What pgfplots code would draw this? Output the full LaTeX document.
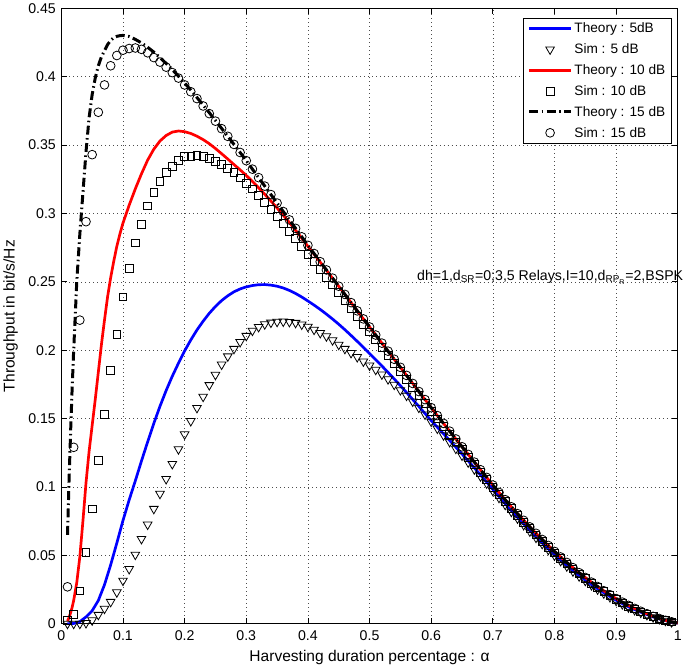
\documentclass[border=0pt]{standalone}
\usepackage{fontspec}
\setmainfont{Liberation Sans}
\usepackage{pgfplots}
\pgfplotsset{compat=1.18}
\usepackage{pgfplotstable}

\newcommand\tf{\fontsize{14.2}{17}\selectfont}
\newcommand\lf{\fontsize{15.6}{18}\selectfont}
\newcommand\gf{\fontsize{13.7}{16}\selectfont}

% x, theory/sim at 5, 10, 15 dB
\pgfplotstableread{
x      T5     S5     T10    S10    T15    S15
0.0100 0.0000 0.0000 0.0020 0.0024 0.0650 0.0270
0.0125 nan    nan    0.0045 nan    0.1050 nan
0.0150 nan    nan    0.0080 nan    0.1400 nan
0.0175 nan    nan    0.0120 nan    0.1720 nan
0.0200 0.0002 0.0000 0.0170 0.0066 0.2000 0.1290
0.0250 nan    nan    0.0300 nan    0.2500 nan
0.0300 0.0015 0.0000 0.0490 0.0240 0.2850 0.2220
0.0350 nan    nan    0.0750 nan    0.3150 nan
0.0400 0.0050 0.0005 0.1030 0.0520 0.3450 0.2940
0.0450 nan    nan    0.1260 nan    0.3700 nan
0.0500 0.0095 0.0025 0.1450 0.0840 0.3870 0.3430
0.0550 nan    nan    0.1640 nan    0.3990 nan
0.0600 0.0170 0.0065 0.1840 0.1196 0.4080 0.3740
0.0650 nan    nan    0.2040 nan    0.4145 nan
0.0700 0.0285 0.0110 0.2220 0.1530 0.4190 0.3940
0.0750 nan    nan    0.2390 nan    0.4235 nan
0.0800 0.0430 0.0160 0.2530 0.1850 0.4265 0.4080
0.0850 nan    nan    0.2650 nan    0.4285 nan
0.0900 0.0590 0.0230 0.2760 0.2116 0.4295 0.4155
0.0950 nan    nan    0.2850 nan    0.4300 nan
0.10 0.0755 0.0315 0.2930 0.2390 0.4302 0.4194
0.11 0.0905 0.0400 0.3060 0.2597 0.4294 0.4206
0.12 0.1045 0.0505 0.3180 0.2784 0.4273 0.4210
0.13 0.1190 0.0620 0.3290 0.2920 0.4247 0.4200
0.14 0.1330 0.0725 0.3390 0.3055 0.4215 0.4175
0.15 0.1465 0.0840 0.3470 0.3155 0.4180 0.4140
0.16 0.1590 0.0950 0.3530 0.3233 0.4140 0.4107
0.17 0.1705 0.1058 0.3570 0.3300 0.4097 0.4070
0.18 0.1810 0.1168 0.3595 0.3344 0.4052 0.4030
0.19 0.1905 0.1276 0.3603 0.3390 0.4004 0.3990
0.20 0.1995 0.1385 0.3598 0.3415 0.3954 0.3940
0.21 0.2075 0.1482 0.3585 0.3420 0.3902 0.3890
0.22 0.2148 0.1578 0.3565 0.3427 0.3848 0.3840
0.23 0.2212 0.1660 0.3540 0.3420 0.3793 0.3786
0.24 0.2270 0.1745 0.3510 0.3400 0.3737 0.3730
0.25 0.2320 0.1820 0.3475 0.3380 0.3680 0.3675
0.26 0.2363 0.1895 0.3437 0.3360 0.3622 0.3620
0.27 0.2398 0.1955 0.3398 0.3330 0.3564 0.3564
0.28 0.2427 0.2010 0.3358 0.3300 0.3505 0.3505
0.29 0.2448 0.2060 0.3319 0.3260 0.3446 0.3446
0.30 0.2463 0.2105 0.3278 0.3220 0.3386 0.3386
0.31 0.2473 0.2143 0.3234 0.3180 0.3324 0.3324
0.32 0.2479 0.2170 0.3188 0.3130 0.3262 0.3262
0.33 0.2480 0.2190 0.3140 0.3080 0.3200 0.3200
0.34 0.2476 0.2202 0.3091 0.3030 0.3138 0.3138
0.35 0.2468 0.2208 0.3040 0.2980 0.3076 0.3076
0.36 0.2455 0.2210 0.2987 0.2925 0.3014 0.3014
0.37 0.2437 0.2207 0.2933 0.2870 0.2953 0.2953
0.38 0.2415 0.2200 0.2877 0.2815 0.2891 0.2891
0.39 0.2389 0.2188 0.2819 0.2759 0.2829 0.2829
0.40 0.2360 0.2172 0.2760 0.2702 0.2767 0.2767
0.41 0.2330 0.2150 0.2702 0.2647 0.2707 0.2707
0.42 0.2298 0.2126 0.2644 0.2591 0.2647 0.2647
0.43 0.2264 0.2102 0.2585 0.2535 0.2587 0.2587
0.44 0.2228 0.2073 0.2526 0.2478 0.2527 0.2527
0.45 0.2190 0.2040 0.2468 0.2422 0.2468 0.2468
0.46 0.2150 0.2010 0.2408 0.2364 0.2408 0.2408
0.47 0.2108 0.1980 0.2348 0.2306 0.2348 0.2348
0.48 0.2065 0.1950 0.2288 0.2248 0.2288 0.2288
0.49 0.2021 0.1918 0.2229 0.2191 0.2229 0.2229
0.50 0.1976 0.1888 0.2170 0.2134 0.2170 0.2170
0.51 0.1931 0.1857 0.2111 0.2076 0.2111 0.2111
0.52 0.1885 0.1823 0.2052 0.2018 0.2052 0.2052
0.53 0.1838 0.1788 0.1993 0.1960 0.1993 0.1993
0.54 0.1790 0.1748 0.1934 0.1902 0.1934 0.1934
0.55 0.1741 0.1708 0.1875 0.1844 0.1875 0.1875
0.56 0.1691 0.1668 0.1816 0.1786 0.1816 0.1816
0.57 0.1640 0.1625 0.1757 0.1728 0.1757 0.1757
0.58 0.1589 0.1580 0.1698 0.1670 0.1698 0.1698
0.59 0.1537 0.1530 0.1639 0.1612 0.1639 0.1639
0.60 0.1485 0.1478 0.1580 0.1554 0.1580 0.1580
0.61 0.1437 0.1427 0.1522 0.1497 0.1522 0.1522
0.62 0.1389 0.1378 0.1465 0.1441 0.1465 0.1465
0.63 0.1340 0.1329 0.1408 0.1385 0.1408 0.1408
0.64 0.1291 0.1280 0.1351 0.1329 0.1351 0.1351
0.65 0.1241 0.1230 0.1294 0.1273 0.1294 0.1294
0.66 0.1191 0.1180 0.1238 0.1218 0.1238 0.1238
0.67 0.1140 0.1129 0.1182 0.1163 0.1182 0.1182
0.68 0.1088 0.1078 0.1126 0.1108 0.1126 0.1126
0.69 0.1036 0.1026 0.1070 0.1053 0.1070 0.1070
0.70 0.0982 0.0972 0.1014 0.0998 0.1014 0.1014
0.71 0.0931 0.0921 0.0960 0.0945 0.0960 0.0960
0.72 0.0879 0.0870 0.0907 0.0892 0.0907 0.0907
0.73 0.0828 0.0819 0.0855 0.0841 0.0855 0.0855
0.74 0.0779 0.0770 0.0805 0.0791 0.0805 0.0805
0.75 0.0730 0.0722 0.0756 0.0743 0.0756 0.0756
0.76 0.0683 0.0675 0.0708 0.0695 0.0708 0.0708
0.77 0.0636 0.0629 0.0661 0.0649 0.0661 0.0661
0.78 0.0591 0.0584 0.0616 0.0604 0.0616 0.0616
0.79 0.0548 0.0541 0.0572 0.0561 0.0572 0.0572
0.80 0.0505 0.0499 0.0529 0.0518 0.0529 0.0529
0.81 0.0465 0.0459 0.0488 0.0478 0.0488 0.0488
0.82 0.0426 0.0420 0.0448 0.0438 0.0448 0.0448
0.83 0.0389 0.0383 0.0410 0.0401 0.0410 0.0410
0.84 0.0353 0.0347 0.0373 0.0364 0.0373 0.0373
0.85 0.0320 0.0314 0.0338 0.0330 0.0338 0.0338
0.86 0.0287 0.0282 0.0304 0.0296 0.0304 0.0304
0.87 0.0256 0.0251 0.0272 0.0265 0.0272 0.0272
0.88 0.0227 0.0222 0.0241 0.0234 0.0241 0.0241
0.89 0.0199 0.0195 0.0212 0.0206 0.0212 0.0212
0.90 0.0172 0.0168 0.0184 0.0178 0.0184 0.0184
0.91 0.0147 0.0143 0.0158 0.0153 0.0158 0.0158
0.92 0.0124 0.0120 0.0134 0.0129 0.0134 0.0134
0.93 0.0103 0.0100 0.0112 0.0108 0.0112 0.0112
0.94 0.0084 0.0081 0.0091 0.0087 0.0091 0.0091
0.95 0.0067 0.0064 0.0073 0.0070 0.0073 0.0073
0.96 0.0050 0.0048 0.0054 0.0052 0.0054 0.0054
0.97 0.0035 0.0034 0.0038 0.0036 0.0038 0.0038
0.98 0.0023 0.0022 0.0025 0.0024 0.0025 0.0025
0.99 0.0013 0.0012 0.0014 0.0013 0.0014 0.0014
1.00 0.0004 nan    0.0005 nan    0.0005 nan
}\data

\begin{document}
\begin{tikzpicture}
\begin{axis}[
  scale only axis,
  width=619pt, height=618pt,
  xmin=0, xmax=1, ymin=0, ymax=0.45,
  clip=false,
  axis line style={line width=0.9pt},
  tick align=inside, tick pos=both,
  major tick length=6pt,
  tick style={line width=0.8pt, black},
  xtick={0,0.1,...,1.0},
  xticklabels={0,0.1,0.2,0.3,0.4,0.5,0.6,0.7,0.8,0.9,1},
  ytick={0,0.05,...,0.45},
  yticklabels={0,0.05,0.1,0.15,0.2,0.25,0.3,0.35,0.4,0.45},
  ticklabel style={font=\tf},
  xticklabel style={yshift=-3.5pt},
  yticklabel style={xshift=-2pt},
  grid=major,
  grid style={black!70, line width=0.6pt, dash pattern=on 0.6pt off 3.4pt},
  xlabel={Harvesting duration percentage : α},
  ylabel={Throughput in bit/s/Hz},
  label style={font=\lf},
  xlabel style={at={([yshift=-34pt]axis description cs:0.5,0)}, anchor=center},
  ylabel style={at={([xshift=-51pt]axis description cs:0,0.5)}, anchor=center},
  legend cell align=left,
  legend style={at={(0.99,0.985)}, anchor=north east, draw=black,
    line width=0.8pt, fill=white, font=\gf, row sep=5.5pt,
    inner xsep=4pt, inner ysep=3pt},
  legend image code/.code={\draw[mark repeat=2,mark phase=2,#1]
    plot coordinates {(0pt,0pt) (21pt,0pt) (42pt,0pt)};},
  unbounded coords=discard,
]
\addplot[blue, line width=2.7pt] table[x=x, y=T5] {\data};
\addlegendentry{Theory : 5dB}
\addplot[only marks, mark=triangle, mark size=5pt,
  mark options={rotate=180, line width=0.8pt, black, fill=none}] table[x=x, y=S5] {\data};
\addlegendentry{Sim : 5 dB}
\addplot[red, line width=2.7pt] table[x=x, y=T10] {\data};
\addlegendentry{Theory : 10 dB}
\addplot[only marks, mark=square, mark size=3.9pt,
  mark options={line width=0.8pt, black, fill=none}] table[x=x, y=S10] {\data};
\addlegendentry{Sim : 10 dB}
\addplot[black, line width=3pt, dash pattern=on 9pt off 3.5pt on 1.5pt off 3.5pt] table[x=x, y=T15] {\data};
\addlegendentry{Theory : 15 dB}
\addplot[only marks, mark=o, mark size=4.4pt,
  mark options={line width=0.8pt, black, fill=none}] table[x=x, y=S15] {\data};
\addlegendentry{Sim : 15 dB}
\node[anchor=base west, font=\tf, inner sep=0pt] at (axis cs:0.577,0.251)
  {dh=1,d\textsubscript{SR}=0;3,5 Relays,I=10,d\textsubscript{RP\textsubscript{R}}=2,BSPK};
\path (rel axis cs:0,0) ++(-61pt,-48pt);
\path (rel axis cs:1,1) ++(5pt,5pt);
\end{axis}
\end{tikzpicture}
\end{document}
